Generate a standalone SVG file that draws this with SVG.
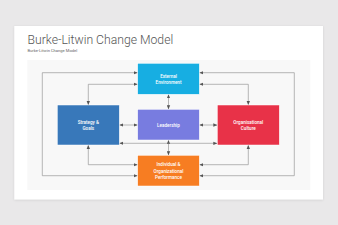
<svg xmlns="http://www.w3.org/2000/svg" width="338" height="225" viewBox="0 0 338 225">
<style>
.ln{fill:none;stroke:#8a8a8a;stroke-width:0.6}
.bx{stroke:#ffffff;stroke-width:0.5}
.lb{font-family:Roboto,"Liberation Sans",sans-serif;font-size:4.6px;fill:#ffffff;text-anchor:middle;font-weight:500}
</style>
<defs>
<marker id="ah" viewBox="0 0 6 6" refX="6" refY="3" markerWidth="4" markerHeight="4" markerUnits="userSpaceOnUse" orient="auto-start-reverse">
<path d="M0,0.5 L6,3 L0,5.5 z" fill="#555"/>
</marker>
<filter id="sh" x="-5%" y="-5%" width="110%" height="110%"><feDropShadow dx="0" dy="0.5" stdDeviation="0.8" flood-color="#000" flood-opacity="0.12"/></filter>
</defs>
<rect width="338" height="225" fill="#e9e8e9"/>
<rect x="14.3" y="26" width="308.7" height="173.5" fill="#ffffff" filter="url(#sh)"/>
<rect x="27.3" y="60" width="283" height="130" fill="#f8f8f8"/>
<text x="27.5" y="44" font-family="Roboto,'Liberation Sans',sans-serif" font-size="12.2" font-weight="300" fill="#555555">Burke-Litwin Change Model</text>
<text x="27.5" y="52.3" font-family="Roboto,'Liberation Sans',sans-serif" font-size="4.1" fill="#666666">Burke-Litwin Change Model</text>
<g id="connectors">
<path class="ln" d="M137.7,72.7 H42.3 V175.7 H137.7" marker-start="url(#ah)" marker-end="url(#ah)"/>
<path class="ln" d="M199.3,72.7 H294.3 V175.7 H199.3" marker-start="url(#ah)" marker-end="url(#ah)"/>
<path class="ln" d="M137.7,84.3 H88.3 V105" marker-start="url(#ah)" marker-end="url(#ah)"/>
<path class="ln" d="M199.3,84.3 H248.3 V105" marker-start="url(#ah)" marker-end="url(#ah)"/>
<path class="ln" d="M88.3,145 V164.7 H137.7" marker-start="url(#ah)" marker-end="url(#ah)"/>
<path class="ln" d="M248.3,145 V164.7 H199.3" marker-start="url(#ah)" marker-end="url(#ah)"/>
<path class="ln" d="M168.5,94.3 V109.3" marker-start="url(#ah)" marker-end="url(#ah)"/>
<path class="ln" d="M168.5,140 V155.3" marker-start="url(#ah)" marker-end="url(#ah)"/>
<path class="ln" d="M119.3,125 H137.7" marker-start="url(#ah)" marker-end="url(#ah)"/>
<path class="ln" d="M199.3,125 H217.3" marker-start="url(#ah)" marker-end="url(#ah)"/>
<path class="ln" d="M119.3,143.3 H217.3" marker-start="url(#ah)" marker-end="url(#ah)"/>
</g>
<g id="external-environment">
<rect class="bx" x="137.7" y="63.3" width="61.6" height="31" fill="#17aee2"/>
<text class="lb" x="168.5" y="77.6">External</text>
<text class="lb" x="168.5" y="83.8">Environment</text>
</g>
<g id="strategy-goals">
<rect class="bx" x="57.3" y="105" width="62" height="40" fill="#3878ba"/>
<text class="lb" x="88.3" y="123.6">Strategy &amp;</text>
<text class="lb" x="88.3" y="129.8">Goals</text>
</g>
<g id="leadership">
<rect class="bx" x="137.7" y="109.3" width="61.6" height="30.7" fill="#787ce0"/>
<text class="lb" x="168.5" y="126.7">Leadership</text>
</g>
<g id="organisational-culture">
<rect class="bx" x="217.3" y="105" width="62" height="40" fill="#e83248"/>
<text class="lb" x="248.3" y="123.6">Organisational</text>
<text class="lb" x="248.3" y="129.8">Culture</text>
</g>
<g id="performance">
<rect class="bx" x="137.7" y="155.3" width="61.6" height="30.7" fill="#f77d22"/>
<text class="lb" x="168.5" y="166.4">Individual &amp;</text>
<text class="lb" x="168.5" y="172.8">Organizational</text>
<text class="lb" x="168.5" y="179.2">Performance</text>
</g>
</svg>
